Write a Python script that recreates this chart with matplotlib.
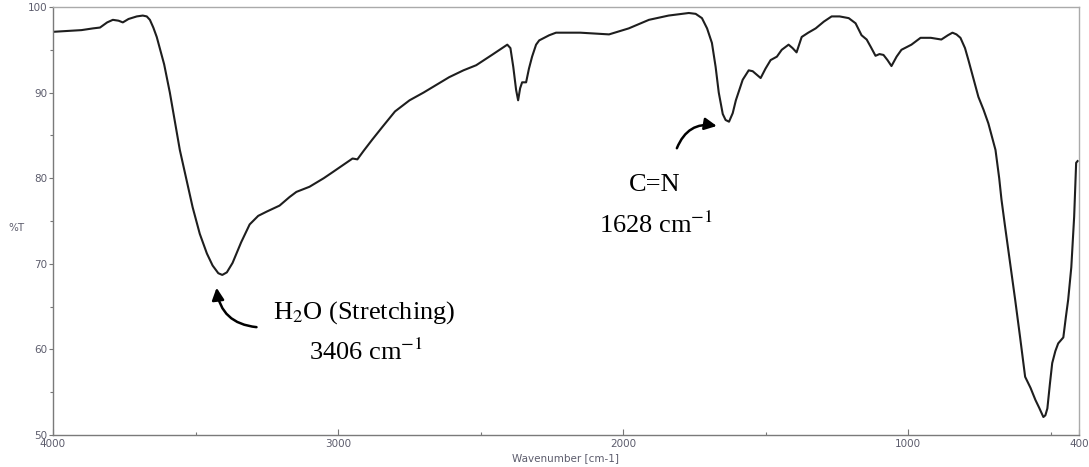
import matplotlib.pyplot as plt
import numpy as np

# FTIR transmittance spectrum (wavenumber in cm-1, %T)
wavenumber = [
    4000, 3950, 3900, 3860, 3835, 3810, 3790, 3770, 3755, 3735, 3706, 3685,
    3671, 3660, 3648, 3636, 3610, 3590, 3555, 3510, 3485, 3460, 3440, 3420,
    3406, 3390, 3370, 3340, 3310, 3280, 3250, 3205, 3170, 3146, 3100, 3050,
    3019, 2980, 2949, 2932, 2910, 2880, 2844, 2800, 2749, 2700, 2650, 2610,
    2560, 2515, 2460, 2406, 2395, 2385, 2375, 2368, 2361, 2354, 2340, 2330,
    2319, 2305, 2294, 2259, 2235, 2150, 2049, 1980, 1909, 1840, 1769, 1745,
    1723, 1705, 1688, 1675, 1664, 1650, 1640, 1628, 1615, 1604, 1580, 1559,
    1545, 1517, 1500, 1482, 1460, 1443, 1419, 1405, 1391, 1373, 1350, 1324,
    1295, 1268, 1240, 1208, 1184, 1163, 1145, 1130, 1114, 1100, 1086, 1072,
    1058, 1040, 1023, 988, 956, 920, 883, 860, 844, 830, 816, 800,
    788, 770, 753, 735, 718, 705, 693, 680, 672, 660, 648, 636,
    624, 607, 589, 570, 553, 540, 525, 518, 511, 502, 494, 483,
    473, 455, 446, 438, 427, 417, 410, 405,
]
transmittance = [
    97.1, 97.2, 97.3, 97.5, 97.6, 98.2, 98.5, 98.4, 98.2, 98.6, 98.9, 99.0,
    98.9, 98.5, 97.6, 96.5, 93.3, 90.0, 83.3, 76.6, 73.5, 71.2, 69.8, 68.9,
    68.7, 69.0, 70.1, 72.5, 74.6, 75.6, 76.1, 76.8, 77.8, 78.4, 79.0, 80.0,
    80.7, 81.6, 82.3, 82.2, 83.2, 84.5, 86.0, 87.8, 89.1, 90.0, 91.0, 91.8,
    92.6, 93.2, 94.4, 95.6, 95.2, 93.0, 90.3, 89.1, 90.5, 91.2, 91.2, 92.8,
    94.2, 95.6, 96.1, 96.7, 97.0, 97.0, 96.8, 97.5, 98.5, 99.0, 99.3, 99.2,
    98.7, 97.5, 95.8, 93.0, 90.0, 87.5, 86.8, 86.6, 87.6, 89.1, 91.5, 92.6,
    92.5, 91.7, 92.8, 93.8, 94.2, 95.0, 95.6, 95.2, 94.7, 96.5, 97.0, 97.5,
    98.3, 98.9, 98.9, 98.7, 98.1, 96.7, 96.2, 95.3, 94.3, 94.5, 94.4, 93.8,
    93.1, 94.2, 95.0, 95.6, 96.4, 96.4, 96.2, 96.7, 97.0, 96.8, 96.4, 95.2,
    93.8, 91.6, 89.5, 88.0, 86.4, 84.8, 83.3, 80.0, 77.5, 74.5, 71.6, 68.7,
    65.8, 61.5, 56.8, 55.5, 54.1, 53.2, 52.1, 52.3, 53.1, 56.0, 58.4, 59.8,
    60.7, 61.4, 63.8, 65.8, 69.6, 75.5, 81.8, 82.0,
]

x_ticks = [4000, 3000, 2000, 1000, 400]
y_ticks = [50, 60, 70, 80, 90, 100]

plt.rcParams['mathtext.fontset'] = 'stix'

fig = plt.figure(figsize=(10.89, 4.67), dpi=100)
ax = fig.add_axes([53 / 1089, 1 - 435 / 467, 1026 / 1089, 428 / 467])

ax.plot(wavenumber, transmittance, color='#1e1e1e', lw=1.5)

ax.set_xlim(4000, 400)
ax.set_ylim(50, 100)

label_color = '#5c5c6c'
ax.set_xticks(x_ticks)
ax.set_xticks([3500, 2500, 1500, 500], minor=True)
ax.set_yticks(y_ticks)
ax.set_yticks([55, 65, 75, 85, 95], minor=True)
ax.tick_params(axis='x', which='major', direction='in', length=4, width=0.8,
               color='#777777', labelsize=7.5, labelcolor=label_color, pad=3)
ax.tick_params(axis='x', which='minor', direction='in', length=2.5, width=0.8,
               color='#777777')
ax.tick_params(axis='y', which='major', direction='out', length=3, width=0.8,
               color='#777777', labelsize=7.5, labelcolor=label_color, pad=1)
ax.tick_params(axis='y', which='minor', direction='out', length=2, width=0.8,
               color='#777777')

for side in ['left', 'bottom']:
    ax.spines[side].set_color('#7a7a7a')
    ax.spines[side].set_linewidth(1.0)
for side in ['top', 'right']:
    ax.spines[side].set_color('#aaaaaa')
    ax.spines[side].set_linewidth(1.0)

fig.text(16 / 1089, 1 - 228 / 467, '%T', fontsize=7.5, color=label_color,
         ha='center', va='center')
fig.text(565 / 1089, 1 - 458 / 467, 'Wavenumber [cm-1]', fontsize=7.5,
         color=label_color, ha='center', va='center')

# peak annotations
serif = 'Liberation Serif'
ax.text(2907, 64.3, 'H$_2$O (Stretching)', family=serif, fontsize=19,
        ha='center', va='center')
ax.text(2900, 59.7, '3406 cm$^{-1}$', family=serif, fontsize=19,
        ha='center', va='center')
ax.annotate('', xy=(3426, 67.2), xytext=(3286, 62.6),
            arrowprops=dict(arrowstyle='-|>', color='black', lw=1.8,
                            mutation_scale=18,
                            connectionstyle='arc3,rad=-0.4',
                            shrinkA=0, shrinkB=0))

ax.text(1888, 79.2, 'C=N', family=serif, fontsize=19,
        ha='center', va='center')
ax.text(1885, 74.5, '1628 cm$^{-1}$', family=serif, fontsize=19,
        ha='center', va='center')
ax.annotate('', xy=(1671, 86.1), xytext=(1811, 83.5),
            arrowprops=dict(arrowstyle='-|>', color='black', lw=1.8,
                            mutation_scale=18,
                            connectionstyle='arc3,rad=-0.4',
                            shrinkA=0, shrinkB=0))

fig.savefig('out.png', dpi=100)
